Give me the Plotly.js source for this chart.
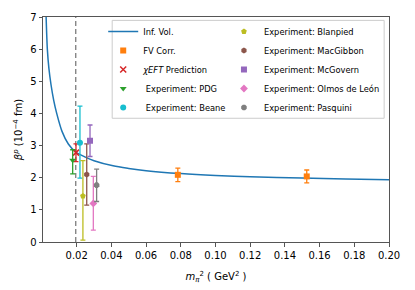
<!DOCTYPE html>
<html>
<head>
<meta charset="utf-8">
<script src="https://cdn.plot.ly/plotly-3.0.1.min.js"></script>
<style>html,body{margin:0;padding:0;background:#fff;}#chart{width:415px;height:290px;}</style>
</head>
<body>
<div id="chart"></div>
<script>
// Infinite-volume curve
const infX = [0.0024, 0.0031, 0.0040, 0.0052, 0.0068, 0.0085, 0.0115, 0.0152, 0.0195, 0.025, 0.030, 0.041, 0.050, 0.060, 0.080, 0.100, 0.120, 0.150, 0.175, 0.200];
const infY = [7.0, 6.0, 5.4, 4.9, 4.4, 4.0, 3.45, 3.05, 2.80, 2.64, 2.53, 2.37, 2.29, 2.22, 2.13, 2.07, 2.03, 1.99, 1.96, 1.94];

// Physical pion mass squared (dashed line)
const physX = [0.0195, 0.0195];
const physY = [0, 7];

// FV corrected lattice points
const fvX = [0.0783, 0.1526];
const fvY = [2.09, 2.04];
const fvErr = [0.21, 0.20];

// chiEFT prediction
const chiX = [0.0196]; const chiY = [2.78]; const chiErrP = [0.27]; const chiErrM = [0.28];
// Experiments
const pdgX = [0.0177]; const pdgY = [2.54]; const pdgErrP = [0.33]; const pdgErrM = [0.42];
const beaneX = [0.0219]; const beaneY = [3.09]; const beaneErrP = [1.14]; const beaneErrM = [1.10];
const blanX = [0.0236]; const blanY = [1.43]; const blanErrP = [1.10]; const blanErrM = [1.37];
const macgX = [0.0258]; const macgY = [2.10]; const macgErrP = [0.95]; const macgErrM = [0.95];
const mcgoX = [0.0277]; const mcgoY = [3.15]; const mcgoErrP = [0.49]; const mcgoErrM = [0.49];
const olmoX = [0.0296]; const olmoY = [1.20]; const olmoErrP = [0.84]; const olmoErrM = [0.83];
const pasqX = [0.0315]; const pasqY = [1.77]; const pasqErrP = [0.50]; const pasqErrM = [0.51];

const xTicks = [0.02, 0.04, 0.06, 0.08, 0.10, 0.12, 0.14, 0.16, 0.18, 0.20];
const xTickText = ['0.02','0.04','0.06','0.08','0.10','0.12','0.14','0.16','0.18','0.20'];
const yTicks = [0,1,2,3,4,5,6,7];

function pt(name, x, y, ep, em, color, symbol, legend) {
  return {
    type: 'scatter', mode: 'markers', name: name, x: x, y: y, legend: legend,
    marker: {color: color, symbol: symbol, size: 6},
    error_y: {type: 'data', symmetric: false, array: ep, arrayminus: em, color: color, thickness: 1.3, width: 2.5}
  };
}

const traces = [
  {type:'scatter', mode:'lines', x: physX, y: physY, showlegend:false, hoverinfo:'skip',
   line:{color:'#555', width:1, dash:'5px,3px'}},
  {type:'scatter', mode:'lines', name:'Inf. Vol.', x: infX, y: infY, legend:'legend',
   line:{color:'#1f77b4', width:1.5, shape:'spline', smoothing:0.8}},
  pt('FV Corr.', fvX, fvY, fvErr, fvErr, '#ff7f0e', 'square', 'legend'),
  pt('<i>χEFT</i> Prediction', chiX, chiY, chiErrP, chiErrM, '#d62728', 'x-thin-open', 'legend'),
  pt(' Experiment: PDG', pdgX, pdgY, pdgErrP, pdgErrM, '#2ca02c', 'triangle-down', 'legend'),
  pt(' Experiment: Beane', beaneX, beaneY, beaneErrP, beaneErrM, '#17becf', 'circle', 'legend'),
  pt('Experiment: Blanpied', blanX, blanY, blanErrP, blanErrM, '#bcbd22', 'pentagon', 'legend2'),
  pt('Experiment: MacGibbon', macgX, macgY, macgErrP, macgErrM, '#8c564b', 'hexagon', 'legend2'),
  pt('Experiment: McGovern', mcgoX, mcgoY, mcgoErrP, mcgoErrM, '#9467bd', 'square', 'legend2'),
  pt('Experiment: Olmos de León', olmoX, olmoY, olmoErrP, olmoErrM, '#e377c2', 'diamond', 'legend2'),
  pt('Experiment: Pasquini', pasqX, pasqY, pasqErrP, pasqErrM, '#7f7f7f', 'octagon', 'legend2')
];
traces[3].marker.line = {color:'#d62728', width:1.5};

const axisCommon = {
  showgrid:false, zeroline:false, showline:true, mirror:true, linecolor:'#555', linewidth:1,
  ticks:'outside', ticklen:3.5, tickwidth:1, tickcolor:'#555',
  tickfont:{family:'DejaVu Sans', size:10, color:'#000'}
};

const layout = {
  width:415, height:290,
  margin:{l:43, r:26, t:17, b:48},
  paper_bgcolor:'#fff', plot_bgcolor:'#fff',
  font:{family:'DejaVu Sans', color:'#000'},
  xaxis: Object.assign({}, axisCommon, {
    range:[0.0006, 0.2], tickvals:xTicks, ticktext:xTickText,
    title:{text:'<i>m</i><sub><i>π</i></sub><sup>2</sup> ( GeV<sup>2</sup> )', font:{family:'DejaVu Sans', size:10}, standoff:13}
  }),
  yaxis: Object.assign({}, axisCommon, {
    range:[0, 7], tickvals:yTicks,
    title:{text:'<i>β</i><sup><i>p</i></sup> (10<sup>−4</sup> fm)', font:{family:'DejaVu Sans', size:10}, standoff:5}
  }),
  legend:{x:0.174, y:1.0, xanchor:'left', yanchor:'top', bgcolor:'rgba(0,0,0,0)', borderwidth:0,
    font:{family:'DejaVu Sans', size:8.3}, itemwidth:30},
  legend2:{x:0.523, y:1.0, xanchor:'left', yanchor:'top', bgcolor:'rgba(0,0,0,0)', borderwidth:0,
    font:{family:'DejaVu Sans', size:8.3}, itemwidth:30},
  shapes:[{type:'rect', xref:'paper', yref:'paper', x0:0.2, x1:0.986, y0:0.55, y1:0.985,
    line:{color:'#ccc', width:1}, fillcolor:'rgba(255,255,255,0.8)', layer:'below'}],
  showlegend:true
};

Plotly.newPlot('chart', traces, layout, {staticPlot:true, displayModeBar:false});
</script>
</body>
</html>
